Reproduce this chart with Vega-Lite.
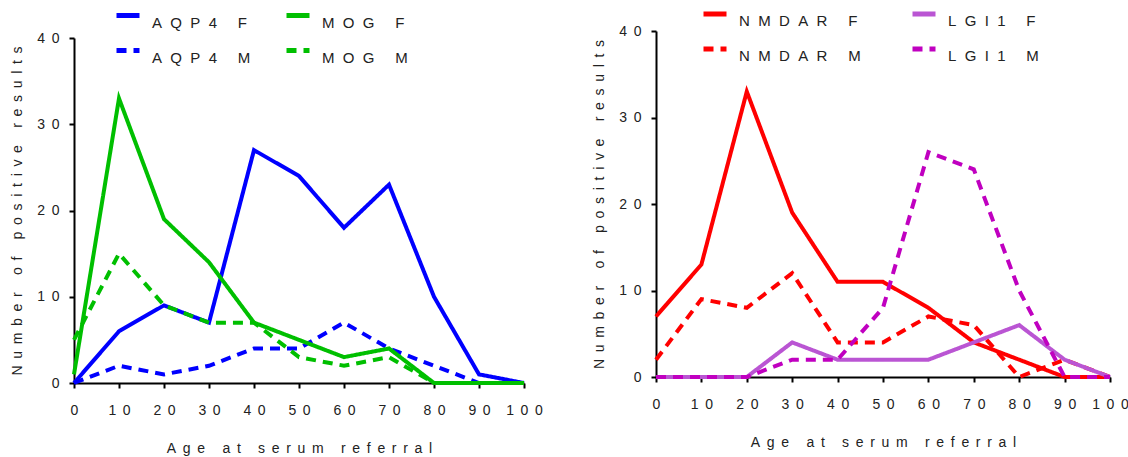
{
  "$schema": "https://vega.github.io/schema/vega-lite/v6.json",
  "background": "white",
  "padding": {"left": 10, "top": 0, "right": 5, "bottom": 5},
  "spacing": 49,
  "resolve": {"scale": {"color": "independent", "strokeDash": "independent", "x": "independent", "y": "independent"}, "legend": {"color": "independent", "strokeDash": "independent"}},
  "config": {
    "font": "Liberation Sans",
    "view": {"stroke": null},
    "axis": {
      "domainColor": "black", "domainWidth": 2, "tickColor": "black", "tickWidth": 2, "tickSize": 5,
      "grid": false, "labelFont": "Liberation Sans", "labelFontSize": 14, "labelColor": "#222",
      "titleFont": "Liberation Sans", "titleFontSize": 14, "titleFontWeight": "normal", "titleColor": "#222",
      "labelFlush": false, "labelOverlap": false
    },
    "axisX": {"labelPadding": 15, "titlePadding": 24, "labelAngle": 0},
    "axisY": {"labelPadding": 10, "titlePadding": 12}
  },
  "datasets": {
    "left": [
      {"s": "AQP4 F", "age": 0, "n": 0}, {"s": "AQP4 F", "age": 10, "n": 6}, {"s": "AQP4 F", "age": 20, "n": 9}, {"s": "AQP4 F", "age": 30, "n": 7}, {"s": "AQP4 F", "age": 40, "n": 27}, {"s": "AQP4 F", "age": 50, "n": 24}, {"s": "AQP4 F", "age": 60, "n": 18}, {"s": "AQP4 F", "age": 70, "n": 23}, {"s": "AQP4 F", "age": 80, "n": 10}, {"s": "AQP4 F", "age": 90, "n": 1}, {"s": "AQP4 F", "age": 100, "n": 0},
      {"s": "AQP4 M", "age": 0, "n": 0}, {"s": "AQP4 M", "age": 10, "n": 2}, {"s": "AQP4 M", "age": 20, "n": 1}, {"s": "AQP4 M", "age": 30, "n": 2}, {"s": "AQP4 M", "age": 40, "n": 4}, {"s": "AQP4 M", "age": 50, "n": 4}, {"s": "AQP4 M", "age": 60, "n": 7}, {"s": "AQP4 M", "age": 70, "n": 4}, {"s": "AQP4 M", "age": 80, "n": 2}, {"s": "AQP4 M", "age": 90, "n": 0}, {"s": "AQP4 M", "age": 100, "n": 0},
      {"s": "MOG F", "age": 0, "n": 1}, {"s": "MOG F", "age": 10, "n": 33}, {"s": "MOG F", "age": 20, "n": 19}, {"s": "MOG F", "age": 30, "n": 14}, {"s": "MOG F", "age": 40, "n": 7}, {"s": "MOG F", "age": 50, "n": 5}, {"s": "MOG F", "age": 60, "n": 3}, {"s": "MOG F", "age": 70, "n": 4}, {"s": "MOG F", "age": 80, "n": 0}, {"s": "MOG F", "age": 90, "n": 0}, {"s": "MOG F", "age": 100, "n": 0},
      {"s": "MOG M", "age": 0, "n": 5}, {"s": "MOG M", "age": 10, "n": 15}, {"s": "MOG M", "age": 20, "n": 9}, {"s": "MOG M", "age": 30, "n": 7}, {"s": "MOG M", "age": 40, "n": 7}, {"s": "MOG M", "age": 50, "n": 3}, {"s": "MOG M", "age": 60, "n": 2}, {"s": "MOG M", "age": 70, "n": 3}, {"s": "MOG M", "age": 80, "n": 0}, {"s": "MOG M", "age": 90, "n": 0}, {"s": "MOG M", "age": 100, "n": 0}
    ],
    "right": [
      {"s": "NMDAR F", "age": 0, "n": 7}, {"s": "NMDAR F", "age": 10, "n": 13}, {"s": "NMDAR F", "age": 20, "n": 33}, {"s": "NMDAR F", "age": 30, "n": 19}, {"s": "NMDAR F", "age": 40, "n": 11}, {"s": "NMDAR F", "age": 50, "n": 11}, {"s": "NMDAR F", "age": 60, "n": 8}, {"s": "NMDAR F", "age": 70, "n": 4}, {"s": "NMDAR F", "age": 80, "n": 2}, {"s": "NMDAR F", "age": 90, "n": 0}, {"s": "NMDAR F", "age": 100, "n": 0},
      {"s": "NMDAR M", "age": 0, "n": 2}, {"s": "NMDAR M", "age": 10, "n": 9}, {"s": "NMDAR M", "age": 20, "n": 8}, {"s": "NMDAR M", "age": 30, "n": 12}, {"s": "NMDAR M", "age": 40, "n": 4}, {"s": "NMDAR M", "age": 50, "n": 4}, {"s": "NMDAR M", "age": 60, "n": 7}, {"s": "NMDAR M", "age": 70, "n": 6}, {"s": "NMDAR M", "age": 80, "n": 0}, {"s": "NMDAR M", "age": 90, "n": 2}, {"s": "NMDAR M", "age": 100, "n": 0},
      {"s": "LGI1 F", "age": 0, "n": 0}, {"s": "LGI1 F", "age": 10, "n": 0}, {"s": "LGI1 F", "age": 20, "n": 0}, {"s": "LGI1 F", "age": 30, "n": 4}, {"s": "LGI1 F", "age": 40, "n": 2}, {"s": "LGI1 F", "age": 50, "n": 2}, {"s": "LGI1 F", "age": 60, "n": 2}, {"s": "LGI1 F", "age": 70, "n": 4}, {"s": "LGI1 F", "age": 80, "n": 6}, {"s": "LGI1 F", "age": 90, "n": 2}, {"s": "LGI1 F", "age": 100, "n": 0},
      {"s": "LGI1 M", "age": 0, "n": 0}, {"s": "LGI1 M", "age": 10, "n": 0}, {"s": "LGI1 M", "age": 20, "n": 0}, {"s": "LGI1 M", "age": 30, "n": 2}, {"s": "LGI1 M", "age": 40, "n": 2}, {"s": "LGI1 M", "age": 50, "n": 8}, {"s": "LGI1 M", "age": 60, "n": 26}, {"s": "LGI1 M", "age": 70, "n": 24}, {"s": "LGI1 M", "age": 80, "n": 10}, {"s": "LGI1 M", "age": 90, "n": 0}, {"s": "LGI1 M", "age": 100, "n": 0}
    ]
  },
  "hconcat": [
    {
      "width": 450, "height": 352,
      "data": {"name": "left"},
      "mark": {"type": "line", "strokeWidth": 4, "strokeCap": "butt"},
      "encoding": {
        "x": {"field": "age", "type": "quantitative", "scale": {"domain": [0, 100], "nice": false},
          "axis": {"values": [0, 10, 20, 30, 40, 50, 60, 70, 80, 90, 100], "labelExpr": "join(split(datum.label, ''), '\u00a0\u2009')",
            "title": "A\u00a0\u2009g\u00a0\u2009e\u00a0\u2009\u00a0\u00a0\u2009a\u00a0\u2009t\u00a0\u2009\u00a0\u00a0\u2009s\u00a0\u2009e\u00a0\u2009r\u00a0\u2009u\u00a0\u2009m\u00a0\u2009\u00a0\u00a0\u2009r\u00a0\u2009e\u00a0\u2009f\u00a0\u2009e\u00a0\u2009r\u00a0\u2009r\u00a0\u2009a\u00a0\u2009l"}},
        "y": {"field": "n", "type": "quantitative", "scale": {"domain": [0, 40], "nice": false, "range": [352, 7]},
          "axis": {"values": [0, 10, 20, 30, 40], "labelExpr": "join(split(datum.label, ''), '\u00a0\u2009')",
            "title": "N\u00a0\u2009u\u00a0\u2009m\u00a0\u2009b\u00a0\u2009e\u00a0\u2009r\u00a0\u2009\u00a0\u00a0\u2009o\u00a0\u2009f\u00a0\u2009\u00a0\u00a0\u2009p\u00a0\u2009o\u00a0\u2009s\u00a0\u2009i\u00a0\u2009t\u00a0\u2009i\u00a0\u2009v\u00a0\u2009e\u00a0\u2009\u00a0\u00a0\u2009r\u00a0\u2009e\u00a0\u2009s\u00a0\u2009u\u00a0\u2009l\u00a0\u2009t\u00a0\u2009s"}},
        "color": {"field": "s", "type": "nominal",
          "scale": {"domain": ["AQP4 F", "AQP4 M", "MOG F", "MOG M"], "range": ["#0000FF", "#0000FF", "#00BF00", "#00BF00"]},
          "legend": {"orient": "none", "legendX": 40, "legendY": -29.5, "padding": 0, "columns": 2, "columnPadding": 25, "rowPadding": 6,
            "symbolType": "stroke", "symbolStrokeWidth": 5, "symbolSize": 529, "labelFontSize": 15, "labelColor": "#222", "labelOffset": 10, "labelBaseline": "top",
            "labelExpr": "join(split(datum.label, ''), '\u00a0\u00a0')", "title": null}},
        "strokeDash": {"field": "s", "type": "nominal",
          "scale": {"domain": ["AQP4 F", "AQP4 M", "MOG F", "MOG M"], "range": [[1, 0], [10, 7], [1, 0], [10, 7]]},
          "legend": {"orient": "none", "legendX": 40, "legendY": -29.5, "padding": 0, "columns": 2, "columnPadding": 25, "rowPadding": 6,
            "symbolType": "stroke", "symbolStrokeWidth": 5, "symbolSize": 529, "labelFontSize": 15, "labelColor": "#222", "labelOffset": 10, "labelBaseline": "top",
            "labelExpr": "join(split(datum.label, ''), '\u00a0\u00a0')", "title": null}}
      }
    },
    {
      "width": 454, "height": 346,
      "data": {"name": "right"},
      "mark": {"type": "line", "strokeWidth": 4, "strokeCap": "butt"},
      "encoding": {
        "x": {"field": "age", "type": "quantitative", "scale": {"domain": [0, 100], "nice": false},
          "axis": {"values": [0, 10, 20, 30, 40, 50, 60, 70, 80, 90, 100], "labelExpr": "join(split(datum.label, ''), '\u00a0\u2009')",
            "title": "A\u00a0\u2009g\u00a0\u2009e\u00a0\u2009\u00a0\u00a0\u2009a\u00a0\u2009t\u00a0\u2009\u00a0\u00a0\u2009s\u00a0\u2009e\u00a0\u2009r\u00a0\u2009u\u00a0\u2009m\u00a0\u2009\u00a0\u00a0\u2009r\u00a0\u2009e\u00a0\u2009f\u00a0\u2009e\u00a0\u2009r\u00a0\u2009r\u00a0\u2009a\u00a0\u2009l"}},
        "y": {"field": "n", "type": "quantitative", "scale": {"domain": [0, 40], "nice": false},
          "axis": {"values": [0, 10, 20, 30, 40], "labelExpr": "join(split(datum.label, ''), '\u00a0\u2009')",
            "title": "N\u00a0\u2009u\u00a0\u2009m\u00a0\u2009b\u00a0\u2009e\u00a0\u2009r\u00a0\u2009\u00a0\u00a0\u2009o\u00a0\u2009f\u00a0\u2009\u00a0\u00a0\u2009p\u00a0\u2009o\u00a0\u2009s\u00a0\u2009i\u00a0\u2009t\u00a0\u2009i\u00a0\u2009v\u00a0\u2009e\u00a0\u2009\u00a0\u00a0\u2009r\u00a0\u2009e\u00a0\u2009s\u00a0\u2009u\u00a0\u2009l\u00a0\u2009t\u00a0\u2009s"}},
        "color": {"field": "s", "type": "nominal",
          "scale": {"domain": ["NMDAR F", "NMDAR M", "LGI1 F", "LGI1 M"], "range": ["#FF0000", "#FF0000", "#BA55D3", "#C000C0"]},
          "legend": {"orient": "none", "legendX": 45, "legendY": -31, "padding": 0, "columns": 2, "columnPadding": 41, "rowPadding": 6,
            "symbolType": "stroke", "symbolStrokeWidth": 5, "symbolSize": 529, "labelFontSize": 15, "labelColor": "#222", "labelOffset": 10, "labelBaseline": "top",
            "labelExpr": "join(split(datum.label, ''), '\u00a0\u00a0')", "title": null}},
        "strokeDash": {"field": "s", "type": "nominal",
          "scale": {"domain": ["NMDAR F", "NMDAR M", "LGI1 F", "LGI1 M"], "range": [[1, 0], [10, 7], [1, 0], [10, 7]]},
          "legend": {"orient": "none", "legendX": 45, "legendY": -31, "padding": 0, "columns": 2, "columnPadding": 41, "rowPadding": 6,
            "symbolType": "stroke", "symbolStrokeWidth": 5, "symbolSize": 529, "labelFontSize": 15, "labelColor": "#222", "labelOffset": 10, "labelBaseline": "top",
            "labelExpr": "join(split(datum.label, ''), '\u00a0\u00a0')", "title": null}}
      }
    }
  ]
}
